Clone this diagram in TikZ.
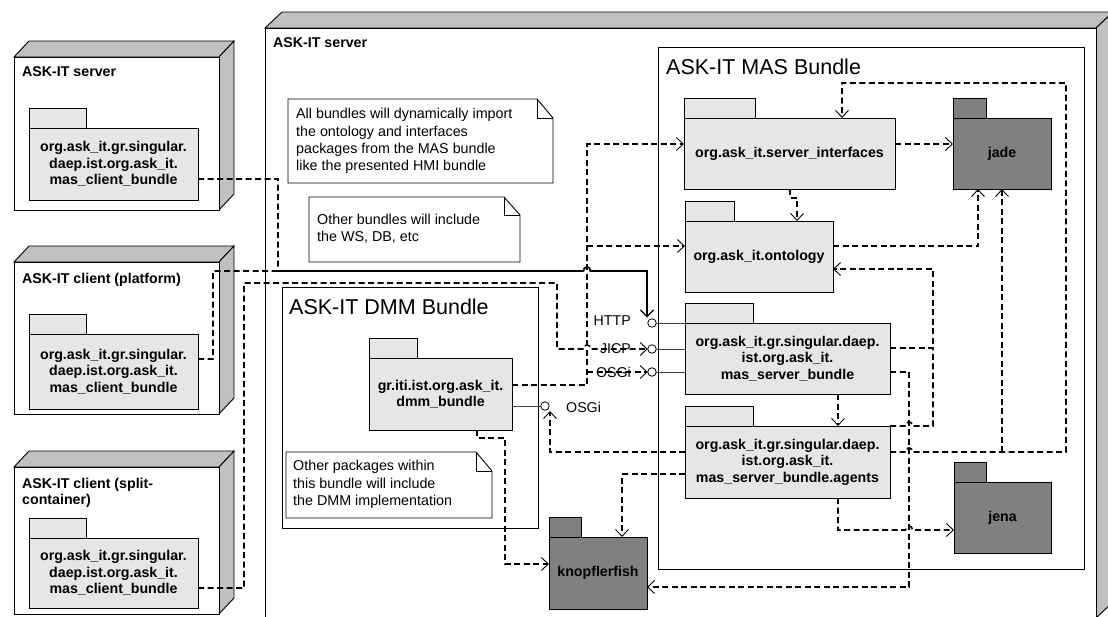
\documentclass[tikz,border=0pt]{standalone}
\usepackage{fontspec}
\setmainfont{Liberation Sans}
\usetikzlibrary{arrows.meta}
\definecolor{pkglight}{HTML}{E6E6E6}
\definecolor{pkgdarkc}{HTML}{808080}
\definecolor{sidec}{HTML}{C0C0C0}
\newcommand{\rsPkgFont}{\fontsize{14.2pt}{16.5pt}\selectfont\bfseries}
\newcommand{\rsNoteFont}{\fontsize{14.3pt}{17.3pt}\selectfont}
\newcommand{\rsTitleFont}{\fontsize{21.5pt}{24pt}\selectfont}
\newcommand{\rsIfcFont}{\fontsize{14.2pt}{16pt}\selectfont}
\newcommand{\rsPkg}[8]{%
  \draw[pkgtab,#7] (#2,#3) rectangle (#6,{#3-19.5});
  \node[pkgbox,#7,anchor=north west,minimum width={(#4-#2)*1pt},minimum height={(#5-#3)*1pt}] (#1) at (#2,#3) {#8};
}
\newcommand{\rsNode}[6]{% name x1 y1 x2 y2 depth
  \filldraw[bd,fill=sidec] (#2,#3) -- ({#2+#6},{#3-16}) -- ({#4+#6},{#3-16}) -- (#4,#3) -- cycle;
  \filldraw[bd,fill=sidec] (#4,#3) -- ({#4+#6},{#3-16}) -- ({#4+#6},{#5-16}) -- (#4,#5) -- cycle;
  \node[frontface,anchor=north west,minimum width={(#4-#2)*1pt},minimum height={(#5-#3)*1pt}] (#1) at (#2,#3) {};
}
\begin{document}
\begin{tikzpicture}[x=1pt,y=-1pt,
  bd/.style={draw=black,line width=0.9pt},
  frontface/.style={draw=black,line width=0.9pt,fill=white,inner sep=0pt,outer sep=0pt},
  pkgtab/.style={draw=black,line width=0.9pt},
  pkgbox/.style={draw=black,line width=0.9pt,inner sep=0pt,outer sep=0pt,align=center,font=\rsPkgFont},
  pkgL/.style={fill=pkglight},
  pkgD/.style={fill=pkgdarkc},
  lbl/.style={font=\rsPkgFont,inner sep=0pt,align=left},
  ttl/.style={font=\rsTitleFont,inner sep=0pt},
  notetxt/.style={font=\rsNoteFont,inner sep=0pt,align=left},
  ifc/.style={font=\rsIfcFont,inner sep=0pt},
  circ/.style={circle,draw=black,line width=0.8pt,fill=white,minimum size=8.5pt,inner sep=0pt,outer sep=0pt},
  lol/.style={draw=black!75,line width=0.8pt},
  depline/.style={draw=black,line width=1.6pt,dash pattern=on 6pt off 3.5pt},
  dep/.style={depline,-{Straight Barb[length=7pt,width=13pt,line width=0.9pt]}}
]
\useasboundingbox (0,0) rectangle (1108,616);
\clip (0,0) rectangle (1108,616);

% ---------- outer server node
\filldraw[bd,fill=sidec] (265,28) -- (282,12) -- (1113,12) -- (1096,28) -- cycle;
\filldraw[bd,fill=sidec] (1096,28) -- (1113,12) -- (1113,602) -- (1096,618) -- cycle;
\node[frontface,anchor=north west,minimum width=831pt,minimum height=590pt] (srv) at (265,28) {};
\node[lbl,anchor=west] (srvl) at (273,43) {ASK-IT server};

% ---------- left nodes
\rsNode{L1}{14}{57}{219}{210}{15}
\node[lbl,anchor=west] (L1t) at (22,72) {ASK-IT server};
\rsNode{L2}{14}{262}{219}{414}{15}
\node[lbl,anchor=west] (L2t) at (22,280) {ASK-IT client (platform)};
\rsNode{L3}{14}{467}{219}{614}{15}
\node[lbl,anchor=west] (L3t) at (22,493) {ASK-IT client (split-\\container)};

% ---------- bundles
\node[frontface,anchor=north west,minimum width=426pt,minimum height=522pt] (mas) at (658,47) {};
\node[ttl,anchor=west] (mast) at (666,67) {ASK-IT MAS Bundle};
\node[frontface,anchor=north west,minimum width=256pt,minimum height=241pt] (dmmb) at (282,287) {};
\node[ttl,anchor=west] (dmmt) at (289,307) {ASK-IT DMM Bundle};

% ---------- notes
\filldraw[bd,fill=white] (288,99) -- (537,99) -- (553,118) -- (553,183) -- (288,183) -- cycle;
\draw[bd] (537,99) -- (537,118) -- (553,118);
\node[notetxt,anchor=west] (n1) at (296,141) {All bundles will dynamically import\\the ontology and interfaces\\packages from the MAS bundle\\like the presented HMI bundle};
\filldraw[bd,fill=white] (309,197) -- (504,197) -- (520,215) -- (520,262) -- (309,262) -- cycle;
\draw[bd] (504,197) -- (504,215) -- (520,215);
\node[notetxt,anchor=west] (n2) at (317,229) {Other bundles will include\\the WS, DB, etc};
\filldraw[bd,fill=white] (286,452) -- (476,452) -- (492,471) -- (492,518) -- (286,518) -- cycle;
\draw[bd] (476,452) -- (476,471) -- (492,471);
\node[notetxt,anchor=west] (n3) at (293,484.5) {Other packages within\\this bundle will include\\the DMM implementation};

% ---------- packages
\rsPkg{c1}{29}{128}{198}{200}{86}{pkgL}{org.ask\_it.gr.singular.\\daep.ist.org.ask\_it.\\mas\_client\_bundle}
\rsPkg{c2}{29}{334}{198}{409}{86}{pkgL}{org.ask\_it.gr.singular.\\daep.ist.org.ask\_it.\\mas\_client\_bundle}
\rsPkg{c3}{29}{538}{198}{608}{86}{pkgL}{org.ask\_it.gr.singular.\\daep.ist.org.ask\_it.\\mas\_client\_bundle}
\rsPkg{si}{684}{118}{895}{189}{755}{pkgL}{org.ask\_it.server\_interfaces}
\rsPkg{onto}{685}{221}{833}{292}{734}{pkgL}{org.ask\_it.ontology}
\rsPkg{ms}{685}{323}{890}{394}{753}{pkgL}{org.ask\_it.gr.singular.daep.\\ist.org.ask\_it.\\mas\_server\_bundle}
\rsPkg{ag}{685}{426}{890}{498}{753}{pkgL}{org.ask\_it.gr.singular.daep.\\ist.org.ask\_it.\\mas\_server\_bundle.agents}
\rsPkg{jade}{953}{118}{1051}{189}{986}{pkgD}{jade}
\rsPkg{jena}{954}{482}{1051}{553}{986}{pkgD}{jena}
\rsPkg{knop}{549}{537}{647}{609}{581}{pkgD}{knopflerfish}
\rsPkg{dmm}{369}{358}{512}{430}{417}{pkgL}{gr.iti.ist.org.ask\_it.\\dmm\_bundle}

% ---------- interfaces (lollipops)
\node[circ] (httpc) at (652,323) {};
\node[circ] (jicpc) at (652,349) {};
\node[circ] (osgic) at (652,372) {};
\node[circ] (dosgic) at (545,406) {};
\draw[lol] (httpc.east) -- (ms.north west);
\draw[lol] (jicpc.east) -- (ms.west |- jicpc);
\draw[lol] (osgic.east) -- (ms.west |- osgic);
\draw[lol] (dmm.east |- dosgic) -- (dosgic.west);
\node[ifc,anchor=east] (httpl) at (631,321) {HTTP};
\node[ifc,anchor=east] (jicpl) at (631,349) {JICP};
\node[ifc,anchor=east] (osgil) at (631,372) {OSGi};
\node[ifc,anchor=west] (dosgil) at (566,407) {OSGi};

% ---------- connectors
% clients -> HTTP
\draw[dep] (c1.east |- 0,179) -- (278,179) -- (278,271) -- (583.5,271) .. controls (583.5,265.5) and (590.5,265.5) .. (590.5,271) -- (647,271) -- (647,317.5);
\draw[dep] (c2.east |- 0,359) -- (213,359) -- (213,271) -- (583.5,271) .. controls (583.5,265.5) and (590.5,265.5) .. (590.5,271) -- (647,271) -- (647,317.5);
% split-container client -> JICP
\draw[dep] (c3.east |- 0,588) -- (244,588) -- (244,283) -- (557,283) -- (557,349) -- (583.5,349) .. controls (583.5,343.5) and (590.5,343.5) .. (590.5,349) -- (jicpc.west);
% dmm -> interfaces / ontology / OSGi
\draw[dep] (dmm.east |- 0,385) -- (587,385) -- (587,144) -- (si.west |- 0,144);
\coordinate (j1) at (587,246);
\draw[dep] (j1) -- (onto.west |- j1);
\coordinate (j2) at (587,372);
\draw[dep] (j2) -- (osgic.west);
% agents -> dmm OSGi
\draw[dep] (ag.west |- 0,452) -- (550,452) -- (550,411);
% dmm -> knopflerfish
\draw[dep] (dmm.south -| 477,0) -- (477,438) -- (505,438) -- (505,564) -- (knop.west |- 0,564);
% agents -> knopflerfish
\draw[dep] (ag.west |- 0,474) -- (622,474) -- (knop.north -| 622,0);
% mas_server -> agents
\draw[dep] (ms.south -| 838,0) -- (ag.north -| 838,0);
% agents -> jena
\draw[dep] (ag.south -| 838,0) -- (838,530) -- (905.5,530) .. controls (905.5,524.5) and (912.5,524.5) .. (912.5,530) -- (jena.west |- 0,530);
% mas_server -> knopflerfish
\draw[dep] (ms.east |- 0,372) -- (909,372) -- (909,587) -- (knop.east |- 0,587);
% mas_server -> ontology
\draw[dep] (ms.east |- 0,348) -- (933,348) -- (933,269) -- (onto.east |- 0,269);
% agents -> ontology (joins)
\coordinate (j3) at (933,348);
\draw[depline] (ag.north east) -- (905.5,426) .. controls (905.5,420.5) and (912.5,420.5) .. (912.5,426) -- (933,426) -- (j3);
% ontology -> jade
\draw[dep] (onto.east |- 0,246) -- (978,246) -- (jade.south -| 978,0);
% interfaces -> jade
\draw[dep] (si.east |- 0,144) -- (jade.west |- 0,144);
% interfaces -> ontology
\draw[dep] (si.south -| 790,0) -- (790,198) -- (797,198) -- (onto.north -| 797,0);
% agents -> interfaces, agents -> jade
\draw[dep] (ag.east |- 0,452) -- (905.5,452) .. controls (905.5,446.5) and (912.5,446.5) .. (912.5,452) -- (1066,452) -- (1066,83) -- (842,83) -- (si.north -| 842,0);
\coordinate (j4) at (1002,452);
\draw[dep] (j4) -- (jade.south -| 1002,0);
\end{tikzpicture}
\end{document}
